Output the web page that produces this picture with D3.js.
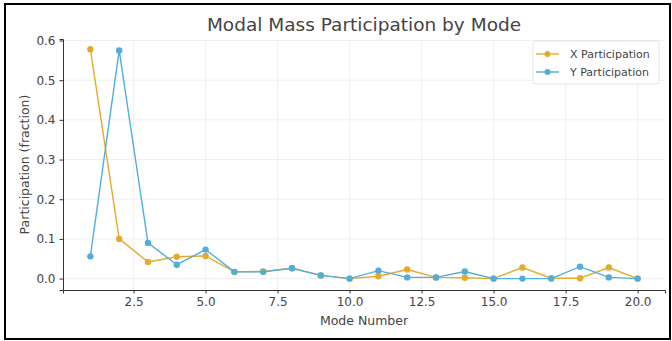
<!DOCTYPE html>
<html>
<head>
<meta charset="utf-8">
<script src="https://cdn.jsdelivr.net/npm/d3@7"></script>
<style>
  html, body { margin: 0; padding: 0; background: #fff; }
  svg { display: block; }
  text { font-family: "DejaVu Sans", sans-serif; }
</style>
</head>
<body>
<svg id="chart" width="672" height="341"></svg>
<script>
const modes = d3.range(1, 21);
const xParticipation = [0.578, 0.100, 0.042, 0.055, 0.057, 0.017, 0.018, 0.026, 0.008, 0.000,
                        0.006, 0.023, 0.003, 0.002, 0.000, 0.028, 0.001, 0.001, 0.028, 0.000];
const yParticipation = [0.056, 0.575, 0.090, 0.035, 0.073, 0.017, 0.017, 0.026, 0.008, 0.000,
                        0.020, 0.003, 0.003, 0.018, 0.000, 0.000, 0.000, 0.030, 0.003, 0.000];
const xTicks = [2.5, 5.0, 7.5, 10.0, 12.5, 15.0, 17.5, 20.0];
const yTicks = [0.0, 0.1, 0.2, 0.3, 0.4, 0.5, 0.6];
const seriesNames = ["X Participation", "Y Participation"];
const seriesColors = ["#E3AA2E", "#50AEDC"];

const svg = d3.select("#chart");
// outer frame
svg.append("rect").attr("x", 5).attr("y", 4).attr("width", 665).attr("height", 335)
  .attr("fill", "none").attr("stroke", "#000").attr("stroke-width", 2);

const m = {left: 63, right: 665, top: 39, bottom: 290};
const x = d3.scaleLinear().domain([0.05, 20.95]).range([m.left, m.right]);
const y = d3.scaleLinear().domain([-0.02875, 0.60375]).range([m.bottom, m.top]);

// grid
const grid = svg.append("g");
grid.selectAll("line.vx").data(xTicks).join("line")
  .attr("x1", d => x(d)).attr("x2", d => x(d)).attr("y1", m.top).attr("y2", m.bottom)
  .attr("stroke", "#ebebeb").attr("stroke-width", 0.8);
grid.selectAll("line.hy").data(yTicks).join("line")
  .attr("y1", d => y(d)).attr("y2", d => y(d)).attr("x1", m.left).attr("x2", m.right)
  .attr("stroke", "#ebebeb").attr("stroke-width", 0.8);

// axes
const xAxis = d3.axisBottom(x).tickValues(xTicks).tickFormat(d3.format(".1f")).tickSize(3.5).tickPadding(4);
const yAxis = d3.axisLeft(y).tickValues(yTicks).tickFormat(d3.format(".1f")).tickSize(3.5).tickPadding(4);
const gx = svg.append("g").attr("transform", `translate(0,${m.bottom})`).call(xAxis);
const gy = svg.append("g").attr("transform", `translate(${m.left},0)`).call(yAxis);
[gx, gy].forEach(g => {
  g.select(".domain").attr("stroke", "#333").attr("stroke-width", 1);
  g.selectAll(".tick line").attr("stroke", "#333");
  g.selectAll(".tick text").attr("fill", "#444").attr("font-size", 12)
    .attr("font-family", "DejaVu Sans, sans-serif");
});

// lines
const data = [xParticipation, yParticipation];
const line = d3.line().x((d, i) => x(modes[i])).y(d => y(d));
data.forEach((vals, s) => {
  const g = svg.append("g");
  g.append("path").datum(vals).attr("d", line).attr("fill", "none")
    .attr("stroke", seriesColors[s]).attr("stroke-width", 1.4);
  g.selectAll("circle").data(vals).join("circle")
    .attr("cx", (d, i) => x(modes[i])).attr("cy", d => y(d)).attr("r", 3.2)
    .attr("fill", seriesColors[s]);
});

// title & labels
svg.append("text").attr("x", (m.left + m.right) / 2).attr("y", 31).attr("text-anchor", "middle")
  .attr("font-size", 18.5).attr("fill", "#444").text("Modal Mass Participation by Mode");
svg.append("text").attr("x", (m.left + m.right) / 2).attr("y", 325).attr("text-anchor", "middle")
  .attr("font-size", 12.5).attr("fill", "#444").text("Mode Number");
svg.append("text").attr("transform", `translate(29,${(m.top + m.bottom) / 2}) rotate(-90)`)
  .attr("text-anchor", "middle").attr("font-size", 12.5).attr("fill", "#444")
  .text("Participation (fraction)");

// legend
const lg = svg.append("g").attr("transform", "translate(533,41)");
lg.append("rect").attr("width", 126).attr("height", 43).attr("rx", 3)
  .attr("fill", "#fff").attr("fill-opacity", 0.85).attr("stroke", "#ddd").attr("stroke-width", 0.8);
seriesNames.forEach((name, i) => {
  const yy = 13 + i * 18;
  lg.append("line").attr("x1", 3).attr("x2", 26).attr("y1", yy).attr("y2", yy)
    .attr("stroke", seriesColors[i]).attr("stroke-width", 1.4);
  lg.append("circle").attr("cx", 14.5).attr("cy", yy).attr("r", 3).attr("fill", seriesColors[i]);
  lg.append("text").attr("x", 37).attr("y", yy + 4).attr("font-size", 11).attr("fill", "#444").text(name);
});
</script>
</body>
</html>
